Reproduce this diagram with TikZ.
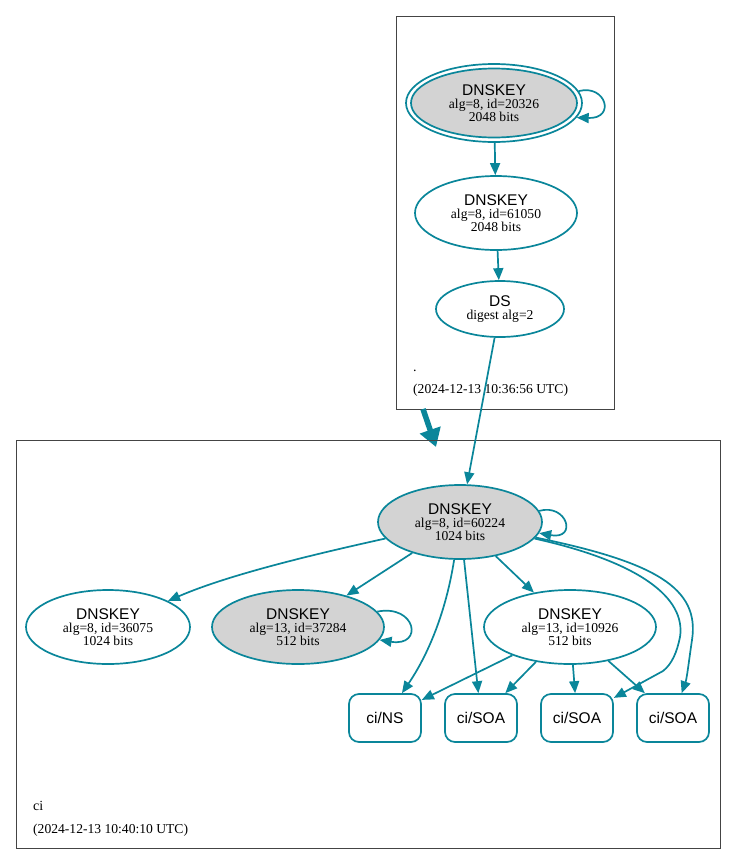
\documentclass[tikz,border=0pt]{standalone}
\usepackage{fontspec}
\setmainfont{Liberation Serif}
\newfontfamily\hsans{Liberation Sans}
\usetikzlibrary{shapes.geometric,arrows.meta}
\definecolor{sec}{HTML}{0A869A}
\definecolor{kfill}{HTML}{D3D3D3}
\definecolor{clus}{HTML}{444444}
\newcommand{\bigsans}{\hsans\fontsize{15.5}{13}\selectfont}
\newcommand{\keylabel}[3]{{\bigsans DNSKEY}\\alg=#1, id=#2\\#3 bits}
\begin{document}
\begin{tikzpicture}[x=1pt,y=-1pt,
  small/.style={font=\fontsize{13.6}{13}\selectfont},
  keynode/.style={ellipse, draw=sec, line width=1.7pt, align=center, inner sep=0pt, small, minimum width=164pt, minimum height=74pt},
  rrbox/.style={rectangle, rounded corners=10pt, draw=sec, line width=1.7pt, minimum width=72pt, minimum height=48pt, inner sep=0pt, font=\bigsans},
  conn/.style={draw=sec, line width=1.7pt, -{Triangle[length=12pt,width=10pt]}},
  clusbox/.style={draw=clus, line width=0.8pt},
  clabel/.style={anchor=base west, inner sep=0pt, small}
]
\useasboundingbox (0,0) rectangle (736,865);
\fill[white] (0,0) rectangle (736,865);

% top cluster
\draw[clusbox] (396,16) rectangle (614,409);
\node[keynode, fill=white, minimum width=176pt, minimum height=78pt] (k1) at (494,103) {};
\node[keynode, fill=kfill, minimum width=166pt, minimum height=69pt] (k1i) at (494,103) {\keylabel{8}{20326}{2048}};
\node[keynode, minimum width=162pt] (k2) at (496,213) {\keylabel{8}{61050}{2048}};
\node[keynode, minimum width=128pt, minimum height=56pt] (ds) at (500,309) {{\bigsans DS}\\digest alg=2};
\node[clabel, font=\fontsize{14}{14}\selectfont] (dot) at (413,371) {.};
\node[clabel] (d1) at (413,393) {(2024-12-13 10:36:56 UTC)};

\draw[conn] (k1.8) .. controls (606,84) and (616,119) .. (k1.-10);
\draw[conn] (k1) -- (k2);
\draw[conn] (k2) -- (ds);

% thick arrow between clusters
\coordinate (t0) at (423,409);
\coordinate (t1) at (436,447);
\draw[draw=sec, line width=5.5pt, -{Triangle[length=18pt,width=21pt]}] (t0) -- (t1);

% bottom cluster
\draw[clusbox] (16,440) rectangle (720,848);
\node[keynode, fill=kfill] (a) at (460,522) {\keylabel{8}{60224}{1024}};
\node[keynode] (b) at (108,627) {\keylabel{8}{36075}{1024}};
\node[keynode, fill=kfill, minimum width=172pt] (c) at (298,627) {\keylabel{13}{37284}{512}};
\node[keynode, minimum width=172pt] (d) at (570,627) {\keylabel{13}{10926}{512}};
\node[rrbox] (ns) at (385,718) {ci/NS};
\node[rrbox] (s1) at (481,718) {ci/SOA};
\node[rrbox] (s2) at (577,718) {ci/SOA};
\node[rrbox] (s3) at (673,718) {ci/SOA};
\node[clabel, font=\fontsize{14}{14}\selectfont] (ci) at (33,810) {ci};
\node[clabel] (d2) at (33,833) {(2024-12-13 10:40:10 UTC)};

\draw[conn] (ds) -- (a);
\draw[conn] (a.8) .. controls (567,503) and (578,540) .. (a.-8);
\draw[conn] (c.11) .. controls (416,604) and (424,647) .. (c.-9);
\draw[conn] (a) .. controls (320,553) and (230,574) .. (b);
\draw[conn] (a) -- (c);
\draw[conn] (a) .. controls (446,612) and (428,655) .. (ns);
\draw[conn] (a) -- (s1);
\draw[conn] (a) -- (d);
\draw[conn] (a) .. controls (640,562) and (686,598) .. (680,637)
   .. controls (677,652) and (672,664) .. (663,671) -- (s2);
\draw[conn] (a) .. controls (655,562) and (700,588) .. (692,640)
   .. controls (689,660) and (687,678) .. (s3);
\draw[conn] (d) -- (ns);
\draw[conn] (d) -- (s1);
\draw[conn] (d) -- (s2);
\draw[conn] (d) -- (s3);
\end{tikzpicture}
\end{document}
